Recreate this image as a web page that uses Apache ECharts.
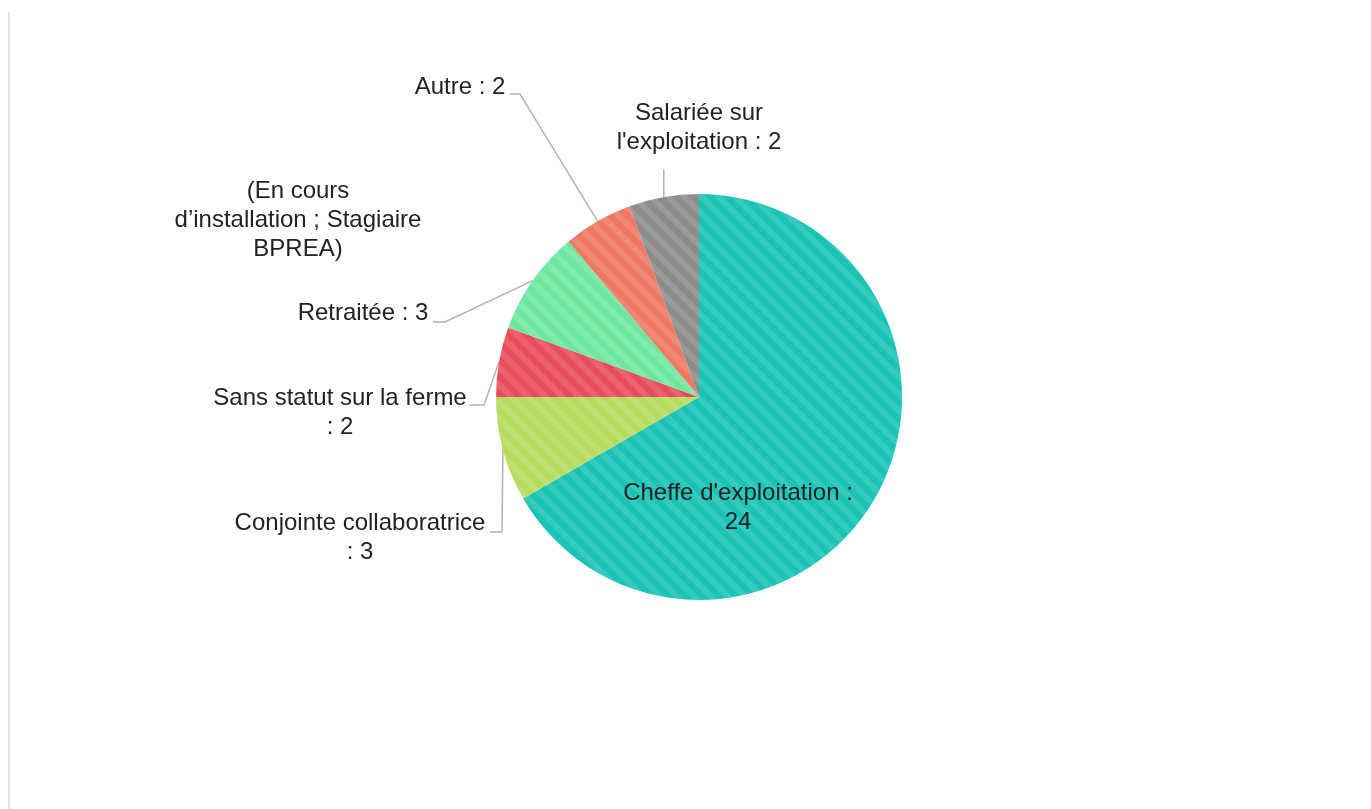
<!DOCTYPE html>
<html>
<head>
<meta charset="utf-8">
<title>Statut</title>
<script src="https://cdn.jsdelivr.net/npm/echarts@6/dist/echarts.min.js"></script>
<style>
  html, body { margin: 0; padding: 0; background: #fff; }
  #chart { width: 1371px; height: 809px; }
</style>
</head>
<body>
<div id="chart"></div>
<script>
// categories, in the order they go round the pie (clockwise from the top)
var statuts = [
  "Cheffe d'exploitation",
  'Conjointe collaboratrice',
  'Sans statut sur la ferme',
  'Retraitée',
  '(En cours d\u2019installation ; Stagiaire BPREA)',
  'Autre',
  "Salariée sur l'exploitation"
];
var effectifs = [24, 3, 2, 3, 0, 2, 2];
// label text as written on the chart (line breaks where Excel wrapped)
var etiquettes = [
  "Cheffe d'exploitation :\n24",
  'Conjointe collaboratrice\n: 3',
  'Sans statut sur la ferme\n: 2',
  'Retraitée : 3',
  '(En cours\nd\u2019installation ; Stagiaire\nBPREA)',
  'Autre : 2',
  "Salariée sur\nl'exploitation : 2"
];
var couleurs = ['#19c3b5', '#b5dc5c', '#e84d5b', '#6de7a0', '#ee7862', '#ee7862', '#8c8c8c'];

/* where each label sits, and the elbow of its leader line */
var spots = [
  { x: 738, y: 508 },
  { x: 360, y: 538, bend: [502, 532], end: [490, 532] },
  { x: 340, y: 413, bend: [484, 405], end: [470, 405] },
  { x: 363, y: 313, bend: [445, 322], end: [433, 322] },
  { x: 298, y: 220 },
  { x: 460, y: 87, bend: [520, 94], end: [510, 94] },
  { x: 699, y: 128, bend: null, end: [664, 170] }
];

var rayures = {
  symbol: 'rect',
  symbolSize: 1,
  dashArrayX: [1, 0],
  dashArrayY: [6, 6],
  rotation: Math.PI / 4,
  color: 'rgba(255,255,255,0.12)'
};

var data = statuts.map(function (nom, i) {
  var item = {
    name: nom,
    value: effectifs[i],
    itemStyle: { color: couleurs[i], decal: rayures }
  };
  if (i === 0) {
    item.label = { position: 'inside' };
  }
  if (effectifs[i] === 0) {
    item.labelLine = { show: false };
  }
  return item;
});

var myChart = echarts.init(document.getElementById('chart'));
myChart.setOption({
  animation: false,
  graphic: [{
    type: 'line',
    shape: { x1: 9, y1: 12, x2: 9, y2: 809 },
    style: { stroke: '#e2e2e2', lineWidth: 2 }
  }],
  series: [{
    type: 'pie',
    center: [699, 397],
    radius: 203,
    startAngle: 90,
    clockwise: true,
    avoidLabelOverlap: false,
    data: data,
    itemStyle: { borderWidth: 0 },
    emphasis: { disabled: true },
    label: {
      show: true,
      position: 'outside',
      formatter: function (p) { return etiquettes[p.dataIndex]; },
      fontFamily: 'Liberation Sans, Arial, sans-serif',
      fontSize: 24,
      lineHeight: 29,
      color: '#222222',
      align: 'center'
    },
    labelLine: {
      show: true,
      length: 10,
      length2: 10,
      lineStyle: { color: '#b3b3b3', width: 1.5 }
    },
    labelLayout: function (params) {
      var s = spots[params.dataIndex];
      var out = { x: s.x, y: s.y, align: 'center', verticalAlign: 'middle', hideOverlap: false };
      if (s.end && params.labelLinePoints) {
        var edge = params.labelLinePoints[0];
        out.labelLinePoints = s.bend ? [edge, s.bend, s.end] : [edge, [edge[0], s.end[1]], s.end];
      }
      return out;
    }
  }]
});
</script>
</body>
</html>
